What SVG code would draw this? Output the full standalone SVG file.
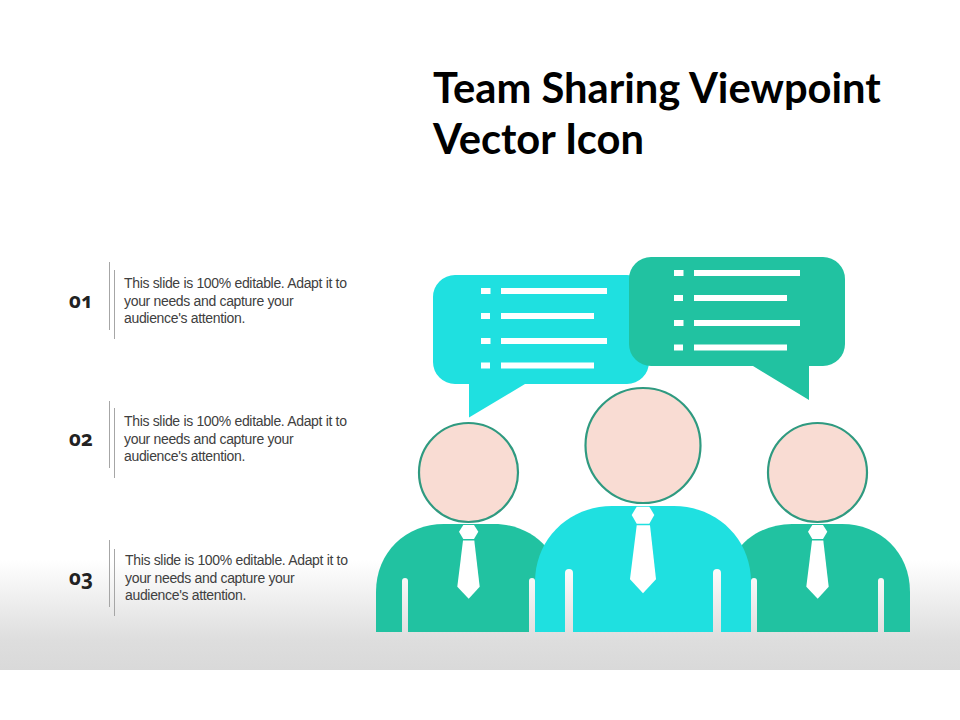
<svg xmlns="http://www.w3.org/2000/svg" width="960" height="720" viewBox="0 0 960 720">
<style>
.title{font:700 41.7px "Lato","Open Sans",sans-serif;fill:#000}
.num{font:700 20.5px "Noto Sans","Open Sans",sans-serif;fill:#222;font-feature-settings:"onum" 1;font-variant-numeric:oldstyle-nums;text-anchor:middle}
.txt{font:14px "Liberation Sans",Arial,sans-serif;fill:#404040;letter-spacing:-0.33px}
.rule{stroke:#a6a6a6;stroke-width:1}
.teal{fill:#21c2a1}.cyan{fill:#1fe0e0}.w{fill:#fff}
.slot{fill:url(#bg)}
.head{fill:#f9dcd3;stroke:#2f9a80;stroke-width:2.2}
</style>
<defs>
<linearGradient id="bg" gradientUnits="userSpaceOnUse" x1="0" y1="560" x2="0" y2="670"><stop offset="0" stop-color="#fff"/><stop offset="0.72" stop-color="#dedede"/><stop offset="1" stop-color="#d9d9d9"/></linearGradient>
<g id="list"><rect x="0" y="0" width="9.5" height="6"/><rect x="20" y="0" width="106" height="6"/><rect x="0" y="25" width="9" height="6"/><rect x="20" y="25" width="93" height="6"/><rect x="0" y="50" width="9.5" height="6"/><rect x="20" y="50" width="106" height="6"/><rect x="0" y="74.5" width="9" height="6"/><rect x="20" y="74.5" width="93" height="6"/></g>
<path id="smallBody" d="M376 632V592C376 552 406 524 444 524H494C532 524 562 552 562 592V632Z"/>
<path id="smallSlot" d="M0 632V581A3 3 0 0 1 6 581V632Z"/>
<path id="bigSlot" d="M0 632V573A4 4 0 0 1 8 573V632Z"/>
<g id="smallTie"><path d="M459 531.7L463.3 525H474L478.3 531.7L474 539H463.3Z"/><path d="M463 540.5H474.3L479.7 586.7L468.7 598.7L457.3 586.7Z"/></g>
</defs>
<rect x="0" y="560" width="960" height="110" fill="url(#bg)"/>
<g id="title"><text class="title" x="433" y="103">Team Sharing Viewpoint</text><text class="title" x="433" y="154">Vector Icon</text></g>
<g id="item-01"><text class="num" x="81" y="308">01</text><line class="rule" x1="109.5" y1="262" x2="109.5" y2="330"/><line class="rule" x1="114.5" y1="270" x2="114.5" y2="339"/><text class="txt"><tspan x="124" y="288">This slide is 100% editable. Adapt it to</tspan><tspan x="124" y="306">your needs and capture your</tspan><tspan x="124" y="323">audience's attention.</tspan></text></g>
<g id="item-02"><text class="num" x="81" y="446">02</text><line class="rule" x1="109.5" y1="401" x2="109.5" y2="468"/><line class="rule" x1="114.5" y1="408" x2="114.5" y2="478"/><text class="txt"><tspan x="124" y="426">This slide is 100% editable. Adapt it to</tspan><tspan x="124" y="444">your needs and capture your</tspan><tspan x="124" y="461">audience's attention.</tspan></text></g>
<g id="item-03"><text class="num" x="81" y="585">03</text><line class="rule" x1="109.5" y1="540" x2="109.5" y2="607"/><line class="rule" x1="114.5" y1="549" x2="114.5" y2="616"/><text class="txt"><tspan x="125" y="565">This slide is 100% editable. Adapt it to</tspan><tspan x="125" y="583">your needs and capture your</tspan><tspan x="125" y="600">audience's attention.</tspan></text></g>
<g id="bubble-left"><path class="cyan" d="M455 275H627A22 22 0 0 1 649 297V362A22 22 0 0 1 627 384H525L469 417.5V384H455A22 22 0 0 1 433 362V297A22 22 0 0 1 455 275Z"/><use href="#list" class="w" x="481" y="288"/></g>
<g id="bubble-right"><path class="teal" d="M651 257H823A22 22 0 0 1 845 279V344A22 22 0 0 1 823 366H809V400L753 366H651A22 22 0 0 1 629 344V279A22 22 0 0 1 651 257Z"/><use href="#list" class="w" x="674" y="270"/></g>
<g id="person-left"><use href="#smallBody" class="teal"/><use href="#smallSlot" class="slot" x="402"/><use href="#smallSlot" class="slot" x="529"/><circle class="head" cx="468.5" cy="472.5" r="49.5"/><use href="#smallTie" class="w"/></g>
<g id="person-right"><use href="#smallBody" class="teal" transform="matrix(-1 0 0 1 1286 0)"/><use href="#smallSlot" class="slot" x="751"/><use href="#smallSlot" class="slot" x="878"/><circle class="head" cx="817.5" cy="472.5" r="49.5"/><use href="#smallTie" class="w" x="349"/></g>
<g id="person-center"><path class="cyan" d="M535 632V582C535 538 570 506 612 506H674C716 506 751 538 751 582V632Z"/><use href="#bigSlot" class="slot" x="565"/><use href="#bigSlot" class="slot" x="713"/><circle class="head" cx="643" cy="445.5" r="57.5"/><path class="w" d="M631.7 515L636.7 506.7H649.3L654.3 515L649.3 523.7H636.7Z"/><path class="w" d="M636.7 525.3H650L656 579.3L643 593.3L630 579.3Z"/></g>
</svg>
